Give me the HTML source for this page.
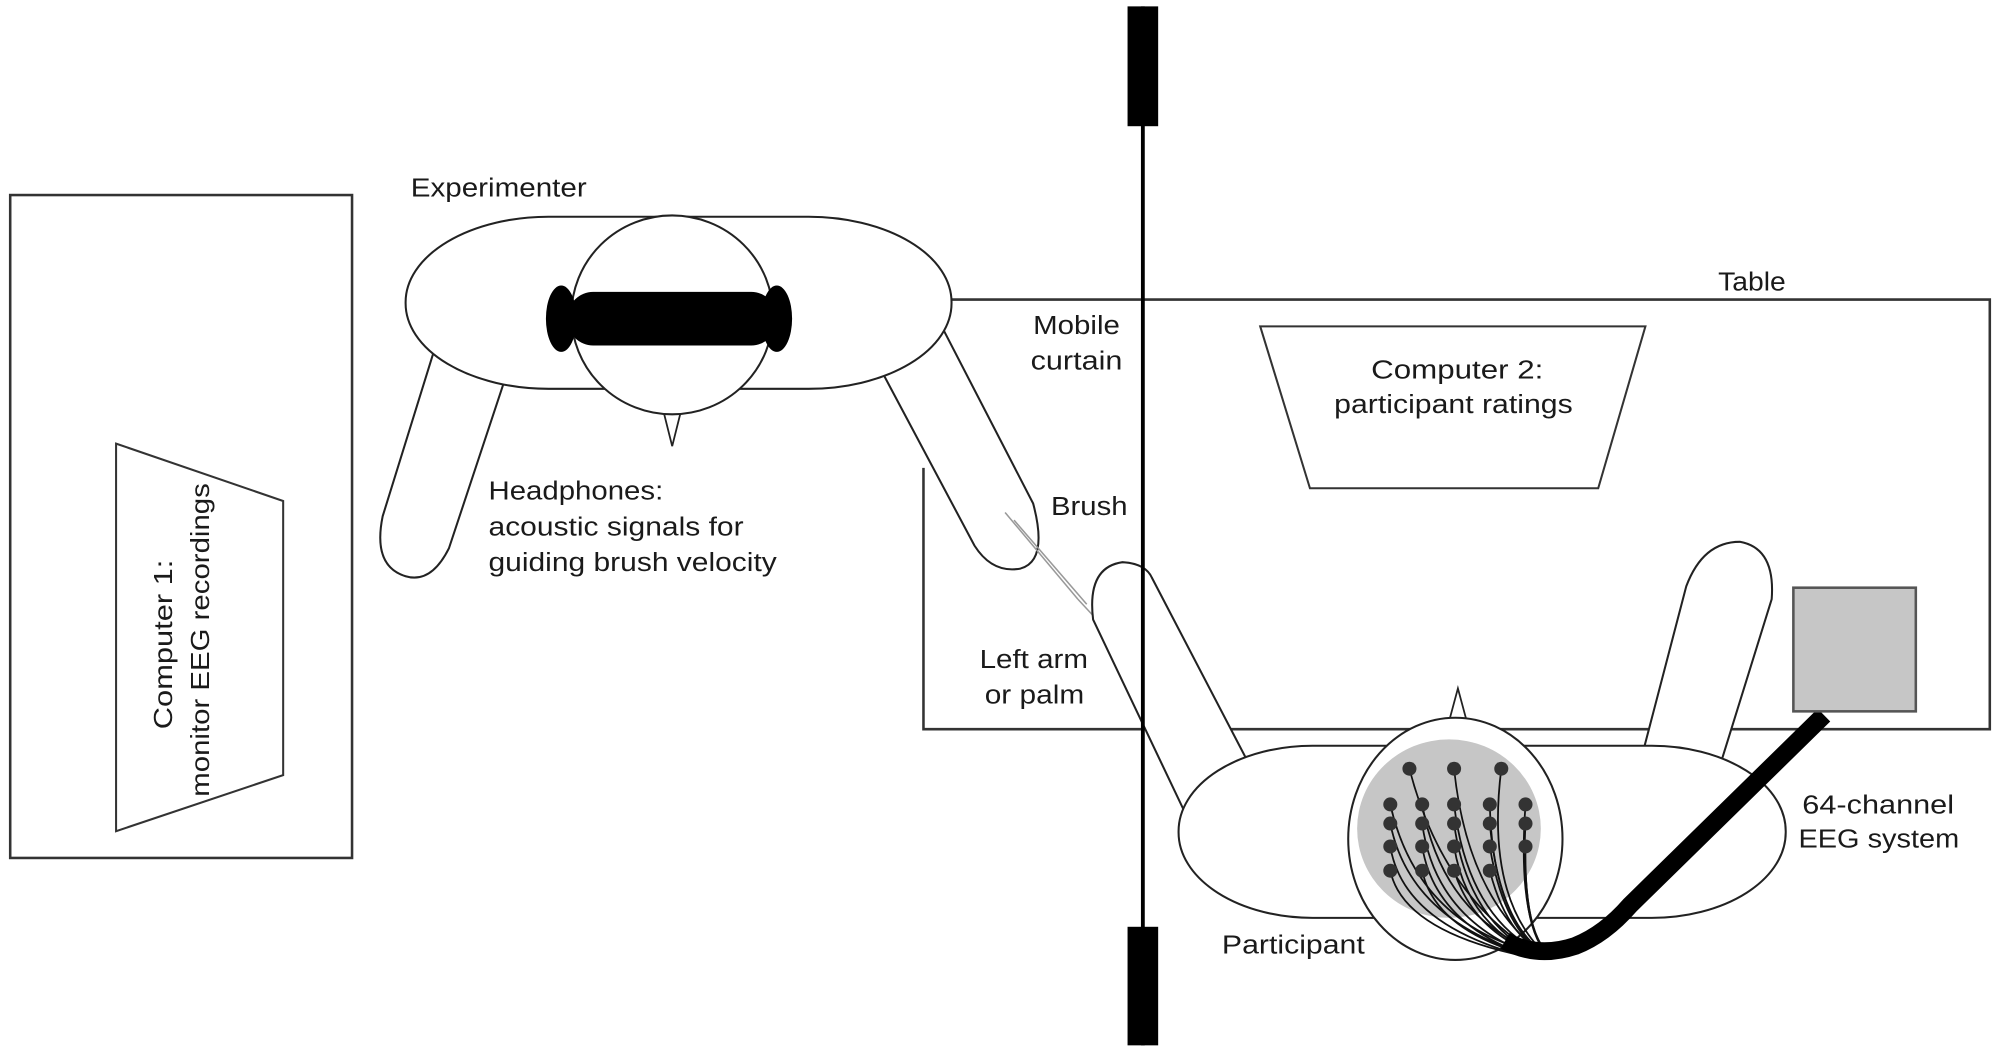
<!DOCTYPE html>
<html><head><meta charset="utf-8"><style>
html,body{margin:0;padding:0;background:#fff;}
svg{display:block;}
text{font-family:"Liberation Sans",sans-serif;font-size:20px;fill:#1a1a1a;}
</style></head><body>
<svg width="2000" height="1053" viewBox="0 0 1568 826" preserveAspectRatio="none" xmlns="http://www.w3.org/2000/svg">
<g fill="none" stroke="#333" stroke-width="1.6">
<rect x="8" y="153" width="268" height="520" stroke-width="2"/>
<polygon points="91,348 222,393 222,608 91,652"/>
<polyline points="746,235 1560,235 1560,572 724,572 724,367" stroke-width="2"/>
<polygon points="988,256 1290,256 1253,383 1027,383"/>
</g>
<path d="M405,270 L352,430 Q338,458 318,452 Q292,444 300,405 L345,260 Z" fill="#fff" stroke="#222" stroke-width="1.6"/>
<path d="M730,240 L810,395 Q822,440 800,446 Q778,450 764,428 L680,270 Z" fill="#fff" stroke="#222" stroke-width="1.6"/>
<rect x="318" y="170" width="428" height="135" rx="112" ry="67" fill="#fff" stroke="#222" stroke-width="1.6"/>
<polygon points="520,322 534,322 527,350" fill="#fff" stroke="#222" stroke-width="1.4"/>
<ellipse cx="527" cy="247" rx="79" ry="78" fill="#fff" stroke="#222" stroke-width="1.6"/>
<rect x="445" y="229" width="164" height="42" rx="20" fill="#000"/>
<ellipse cx="440" cy="250" rx="12" ry="26" fill="#000"/>
<ellipse cx="609" cy="250" rx="12" ry="26" fill="#000"/>
<g stroke="#999" stroke-width="1.2" fill="none">
<line x1="788" y1="402" x2="845" y2="470"/>
<line x1="795" y1="408" x2="852" y2="474"/>
<line x1="845" y1="470" x2="858" y2="484"/>
</g>
<path d="M857,486 Q852,445 880,441 Q898,442 903,453 L990,620 L935,650 Z" fill="#fff" stroke="#222" stroke-width="1.6"/>
<path d="M1275,640 L1322,460 Q1335,425 1364,425 Q1392,430 1389,470 L1330,660 Z" fill="#fff" stroke="#222" stroke-width="1.6"/>
<rect x="924" y="585" width="476" height="135" rx="105" ry="67" fill="#fff" stroke="#222" stroke-width="1.6"/>
<polygon points="1136,566 1150,566 1143,540" fill="#fff" stroke="#222" stroke-width="1.4"/>
<ellipse cx="1141" cy="658" rx="84" ry="95" fill="#fff" stroke="#222" stroke-width="1.6"/>
<ellipse cx="1136" cy="650" rx="72" ry="70" fill="#c6c6c6"/>
<g stroke="#111" stroke-width="1.4" fill="none">
<path d="M1105,603 Q1130,700 1200,745"/>
<path d="M1140,603 Q1150,700 1205,745"/>
<path d="M1177,603 Q1165,700 1208,745"/>
<path d="M1090,631 Q1110,720 1195,745"/>
<path d="M1115,631 Q1130,715 1200,745"/>
<path d="M1140,631 Q1150,715 1203,745"/>
<path d="M1168,631 Q1170,715 1207,745"/>
<path d="M1196,631 Q1190,715 1210,745"/>
<path d="M1090,646 Q1105,720 1195,748"/>
<path d="M1115,646 Q1125,720 1198,748"/>
<path d="M1140,646 Q1150,720 1202,748"/>
<path d="M1168,646 Q1175,720 1207,745"/>
<path d="M1196,646 Q1192,720 1210,745"/>
<path d="M1090,664 Q1100,725 1195,750"/>
<path d="M1115,664 Q1125,725 1199,750"/>
<path d="M1140,664 Q1150,725 1203,748"/>
<path d="M1168,664 Q1178,725 1207,746"/>
<path d="M1196,664 Q1195,725 1211,745"/>
<path d="M1090,683 Q1100,730 1195,750"/>
<path d="M1115,683 Q1125,730 1200,750"/>
<path d="M1140,683 Q1155,730 1203,748"/>
<path d="M1168,683 Q1180,730 1207,746"/>
<path d="M1196,683 Q1198,730 1211,745"/>
</g>
<g fill="#333">
<circle cx="1105" cy="603" r="5.5"/><circle cx="1140" cy="603" r="5.5"/><circle cx="1177" cy="603" r="5.5"/>
<circle cx="1090" cy="631" r="5.5"/><circle cx="1115" cy="631" r="5.5"/><circle cx="1140" cy="631" r="5.5"/><circle cx="1168" cy="631" r="5.5"/><circle cx="1196" cy="631" r="5.5"/>
<circle cx="1090" cy="646" r="5.5"/><circle cx="1115" cy="646" r="5.5"/><circle cx="1140" cy="646" r="5.5"/><circle cx="1168" cy="646" r="5.5"/><circle cx="1196" cy="646" r="5.5"/>
<circle cx="1090" cy="664" r="5.5"/><circle cx="1115" cy="664" r="5.5"/><circle cx="1140" cy="664" r="5.5"/><circle cx="1168" cy="664" r="5.5"/><circle cx="1196" cy="664" r="5.5"/>
<circle cx="1090" cy="683" r="5.5"/><circle cx="1115" cy="683" r="5.5"/><circle cx="1140" cy="683" r="5.5"/><circle cx="1168" cy="683" r="5.5"/>
</g>
<path d="M1180,738 Q1205,752 1235,742 Q1258,733 1278,710 L1430,561" fill="none" stroke="#000" stroke-width="14" stroke-linejoin="round"/>
<rect x="1406" y="461" width="96" height="97" fill="#c6c6c6" stroke="#555" stroke-width="2"/>
<line x1="896" y1="5" x2="896" y2="820" stroke="#000" stroke-width="3"/>
<rect x="884" y="5" width="24" height="94" fill="#000"/>
<rect x="884" y="727" width="24" height="93" fill="#000"/>
<text x="322" y="154" textLength="138" lengthAdjust="spacingAndGlyphs">Experimenter</text>
<text x="810" y="262" textLength="68" lengthAdjust="spacingAndGlyphs">Mobile</text>
<text x="808" y="290" textLength="72" lengthAdjust="spacingAndGlyphs">curtain</text>
<text x="1347" y="228" textLength="53" lengthAdjust="spacingAndGlyphs">Table</text>
<text x="1075" y="297" textLength="135" lengthAdjust="spacingAndGlyphs">Computer 2:</text>
<text x="1046" y="324" textLength="187" lengthAdjust="spacingAndGlyphs">participant ratings</text>
<text x="824" y="404" textLength="60" lengthAdjust="spacingAndGlyphs">Brush</text>
<text x="383" y="392" textLength="137" lengthAdjust="spacingAndGlyphs">Headphones:</text>
<text x="383" y="420" textLength="200" lengthAdjust="spacingAndGlyphs">acoustic signals for</text>
<text x="383" y="448" textLength="226" lengthAdjust="spacingAndGlyphs">guiding brush velocity</text>
<text x="768" y="524" textLength="85" lengthAdjust="spacingAndGlyphs">Left arm</text>
<text x="772" y="552" textLength="78" lengthAdjust="spacingAndGlyphs">or palm</text>
<text x="958" y="748" textLength="112" lengthAdjust="spacingAndGlyphs">Participant</text>
<text x="1413" y="638" textLength="119" lengthAdjust="spacingAndGlyphs">64-channel</text>
<text x="1410" y="665" textLength="126" lengthAdjust="spacingAndGlyphs">EEG system</text>
<text transform="translate(135,572) rotate(-90)" textLength="133" lengthAdjust="spacingAndGlyphs">Computer 1:</text>
<text transform="translate(164,625) rotate(-90)" textLength="246" lengthAdjust="spacingAndGlyphs">monitor EEG recordings</text>
</svg>
</body></html>
